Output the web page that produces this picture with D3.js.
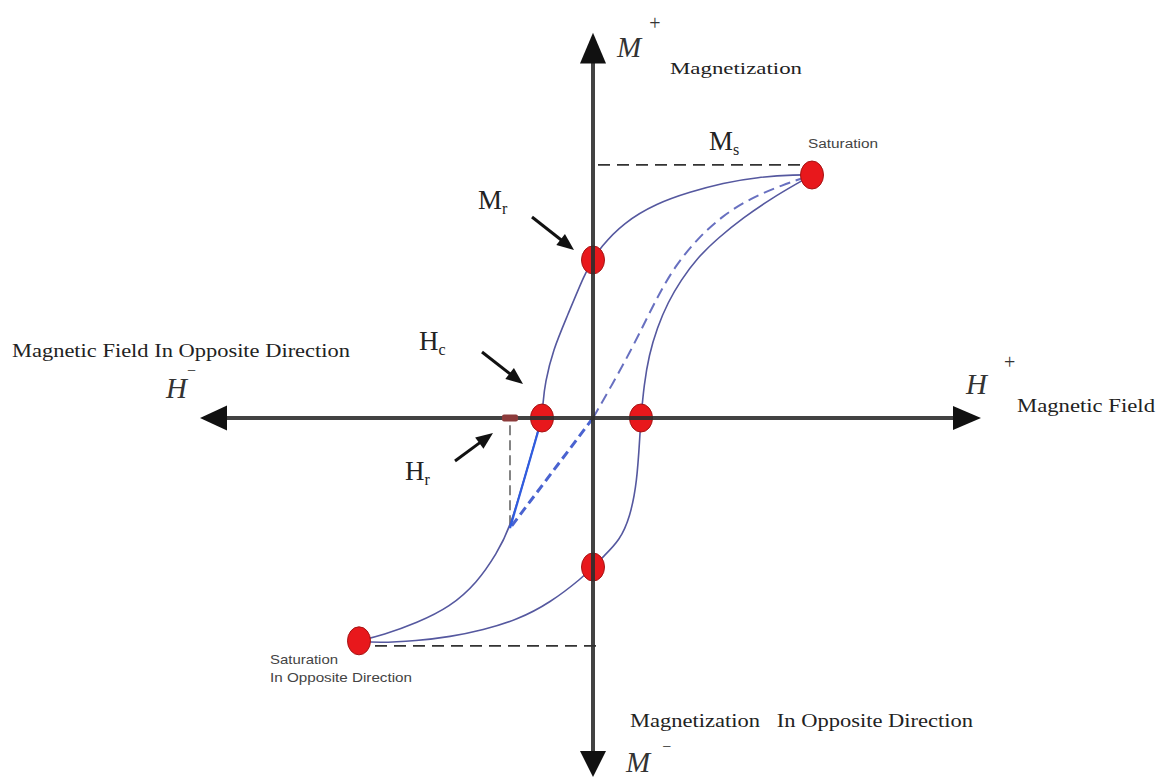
<!DOCTYPE html>
<html><head><meta charset="utf-8">
<script src="https://cdn.jsdelivr.net/npm/d3@7"></script>
<style>body{margin:0;background:#fff;} svg{display:block;}</style>
</head><body><svg id="c" width="1157" height="778"></svg>
<script>
// ---------- data (H = field units, M = magnetization units) ----------
const descendingH = [5.475, 5.1, 4.1, 3.25, 2.425, 1.6, 0.75, 0.175, 0, -0.2, -0.65, -1.0, -1.2, -1.25, -1.275, -1.675, -2.075, -2.4, -2.9, -3.575, -4.4, -5.25, -5.85];
const descendingM = [6.75, 6.76, 6.69, 6.53, 6.28, 5.97, 5.42, 4.72, 4.39, 4.03, 2.81, 1.89, 0.97, 0.42, 0, -1.53, -3.06, -3.75, -4.58, -5.25, -5.69, -6.03, -6.19];
const ascendingH  = [-5.85, -5.4, -4.4, -3.575, -2.75, -1.9, -1.075, -0.25, 0, 0.25, 0.675, 0.925, 1.1, 1.175, 1.2, 1.275, 1.4, 1.6, 1.875, 2.2, 2.6, 3.125, 3.75, 4.475, 5.125, 5.475];
const ascendingM  = [-6.19, -6.25, -6.19, -6.08, -5.89, -5.61, -5.14, -4.42, -4.14, -3.86, -3.39, -2.75, -1.81, -0.42, 0, 0.92, 1.75, 2.5, 3.22, 3.83, 4.44, 5.0, 5.56, 6.11, 6.53, 6.75];
const virginH = [0, 0.475, 0.925, 1.325, 1.675, 2.075, 2.6, 3.225, 3.95, 4.725, 5.475];
const virginM = [0, 0.92, 1.83, 2.72, 3.5, 4.25, 4.97, 5.61, 6.11, 6.47, 6.75];
const recoilH = [0, -2.075];
const recoilM = [0, -3.06];
const reversalH = [-1.275, -2.075];
const reversalM = [0, -3.06];
const pointNames = ["Saturation", "Mr", "Hc-", "Hc+", "-Mr", "Saturation In Opposite Direction"];
const pointH = [5.475, 0, -1.275, 1.2, 0, -5.85];
const pointM = [6.75, 4.39, 0, 0, -4.14, -6.19];
const Ms = 7.03, MsNeg = -6.33, Hr = -2.075, HrM = -3.06;

// ---------- scales ----------
const svg = d3.select("#c");
const x = d3.scaleLinear().domain([-10, 10]).range([193, 993]);
const y = d3.scaleLinear().domain([-10, 10]).range([778, 58]);
const zip = (a, b) => a.map((v, i) => [v, b[i]]);
const line = d3.line().x(d => x(d[0])).y(d => y(d[1])).curve(d3.curveBasis);
const straight = d3.line().x(d => x(d[0])).y(d => y(d[1]));

const axisCol = "#2e2e2e";
const serif = "'Liberation Serif','Times New Roman',serif";
const sans = "'Liberation Sans',Arial,sans-serif";

// ---------- dashed guides ----------
svg.append("path").attr("d", straight([[0.125, Ms], [5.175, Ms]]))
  .attr("stroke", "#333").attr("stroke-width", 1.6).attr("stroke-dasharray", "12,7").attr("fill", "none");
svg.append("path").attr("d", straight([[-5.45, MsNeg], [0.125, MsNeg]]))
  .attr("stroke", "#333").attr("stroke-width", 1.6).attr("stroke-dasharray", "12,7").attr("fill", "none");
svg.append("path").attr("d", straight([[Hr, -0.2], [Hr, HrM]]))
  .attr("stroke", "#333").attr("stroke-width", 1.2).attr("stroke-dasharray", "10,5").attr("fill", "none");

// ---------- curves ----------
svg.append("path").attr("d", line(zip(descendingH, descendingM)))
  .attr("fill", "none").attr("stroke", "#55589f").attr("stroke-width", 1.6);
svg.append("path").attr("d", line(zip(ascendingH, ascendingM)))
  .attr("fill", "none").attr("stroke", "#55589f").attr("stroke-width", 1.6);
svg.append("path").attr("d", line(zip(virginH, virginM)))
  .attr("fill", "none").attr("stroke", "#6870c0").attr("stroke-width", 2).attr("stroke-dasharray", "11,6");
svg.append("path").attr("d", straight(zip(recoilH, recoilM)))
  .attr("fill", "none").attr("stroke", "#4a63d0").attr("stroke-width", 3).attr("stroke-dasharray", "9,5");
svg.append("path").attr("d", straight(zip(reversalH, reversalM)))
  .attr("fill", "none").attr("stroke", "#2f5ce0").attr("stroke-width", 2.2);

// ---------- key points ----------
svg.selectAll(".pt").data(zip(pointH, pointM)).enter().append("ellipse")
  .attr("cx", d => x(d[0])).attr("cy", d => y(d[1])).attr("rx", 11.5).attr("ry", 14)
  .attr("fill", "#e8181c").attr("stroke", "#a51414").attr("stroke-width", 1);

// ---------- axes ----------
const x0 = x(0), y0 = y(0);
svg.append("line").attr("x1", x(-9.6)).attr("x2", x(9.5)).attr("y1", y0).attr("y2", y0)
  .attr("stroke", axisCol).attr("stroke-width", 4).attr("stroke-opacity", 0.9);
svg.append("line").attr("x1", x0).attr("x2", x0).attr("y1", y(10.3)).attr("y2", y(-9.4))
  .attr("stroke", axisCol).attr("stroke-width", 4).attr("stroke-opacity", 0.9);
const heads = [
  [[x(-9.825), y0], [x(-9.15), y0 - 12.5], [x(-9.15), y0 + 12.5]],
  [[x(9.7), y0], [x(9.0), y0 - 12], [x(9.0), y0 + 12]],
  [[x0, y(10.7)], [x0 - 13, y(9.85)], [x0 + 13, y(9.85)]],
  [[x0, y(-9.97)], [x0 - 13, y(-9.25)], [x0 + 13, y(-9.25)]]
];
svg.selectAll(".head").data(heads).enter().append("polygon")
  .attr("points", d => d.map(p => p.join(",")).join(" ")).attr("fill", "#111");

// Hr marker on axis
svg.append("rect").attr("x", x(Hr) - 8).attr("y", y0 - 3.5).attr("width", 16).attr("height", 7)
  .attr("rx", 2).attr("fill", "#8c3b3b");

// ---------- annotation arrows ----------
function arrow(x1, y1, x2, y2) {
  const a = Math.atan2(y2 - y1, x2 - x1), L = 17, W = 7;
  const bx = x2 - L * Math.cos(a), by = y2 - L * Math.sin(a);
  svg.append("line").attr("x1", x1).attr("y1", y1).attr("x2", bx + 2 * Math.cos(a)).attr("y2", by + 2 * Math.sin(a))
    .attr("stroke", "#111").attr("stroke-width", 3);
  const px = -Math.sin(a) * W, py = Math.cos(a) * W;
  svg.append("polygon").attr("points", [[x2, y2], [bx + px, by + py], [bx - px, by - py]].map(p => p.join(",")).join(" "))
    .attr("fill", "#111");
}
arrow(532, 217, 574, 250);
arrow(482, 352, 523, 384);
arrow(455, 461, 493, 433);

// ---------- text ----------
function txt(t, xx, yy, size, opts = {}) {
  const e = svg.append("text").attr("x", xx).attr("y", yy).text(t)
    .attr("font-family", opts.family || serif).attr("font-size", size)
    .attr("fill", opts.fill || "#222").style("white-space", "pre");
  if (opts.len) e.attr("textLength", opts.len).attr("lengthAdjust", "spacingAndGlyphs");
  return e;
}
function sym(main, sup, xx, yy, supDx, supDy, supSize) {
  const t = svg.append("text").attr("x", xx).attr("y", yy).attr("font-family", serif).attr("fill", "#333");
  t.append("tspan").attr("font-size", 29).attr("font-style", "italic").text(main);
  t.append("tspan").attr("font-size", supSize).attr("dx", supDx).attr("dy", supDy).text(sup);
  return t;
}
// Axis symbols
sym("M", "+", 617, 57, 8, -27, 20);
txt("Magnetization", 670, 74, 17, {len: 132});
sym("H", "\u2212", 166, 398, 0, -22, 16);
sym("H", "+", 966, 394, 17, -25, 20);
txt("Magnetic Field", 1017, 412, 18, {len: 138});
txt("Magnetic Field In Opposite Direction", 12, 357, 18, {len: 338});
txt("Magnetization   In Opposite Direction", 630, 727, 18, {len: 343});
sym("M", "\u2212", 626, 772, 12, -20, 16);

// Subscripted labels
function sub(main, s, xx, yy) {
  const t = svg.append("text").attr("x", xx).attr("y", yy).attr("font-family", serif).attr("fill", "#222");
  t.append("tspan").attr("font-size", 27).text(main);
  t.append("tspan").attr("font-size", 16).attr("dy", 5).text(s);
}
sub("M", "s", 709, 150);
sub("M", "r", 478, 209);
sub("H", "c", 419, 350);
sub("H", "r", 405, 480);

txt("Saturation", 808, 148, 12, {family: sans, fill: "#444", len: 70});
txt("Saturation", 270, 664, 13, {family: sans, fill: "#444", len: 68});
txt("In Opposite Direction", 270, 682, 13, {family: sans, fill: "#444", len: 142});
</script></body></html>
